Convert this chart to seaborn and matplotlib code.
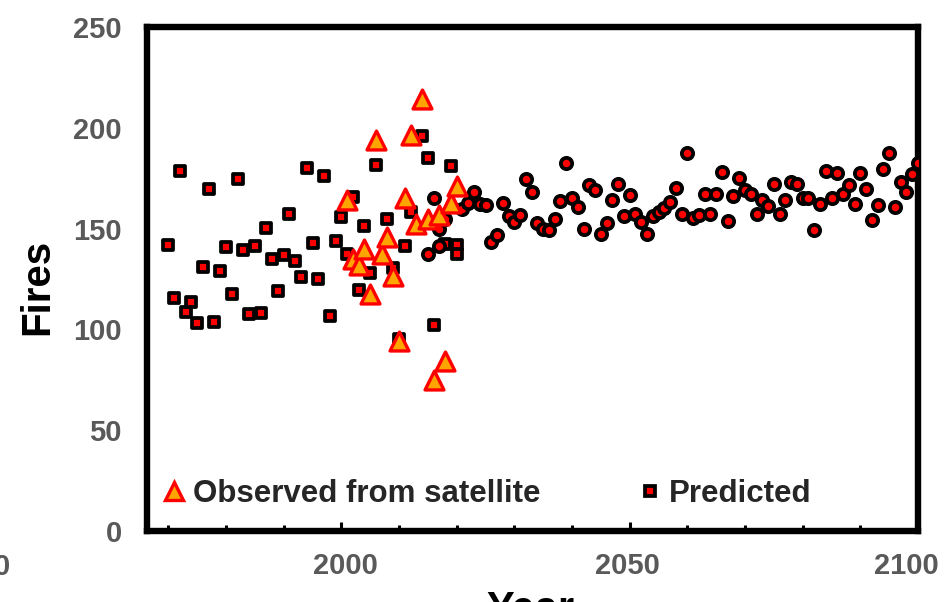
import matplotlib
matplotlib.use("Agg")
import matplotlib.pyplot as plt
import seaborn as sns
from matplotlib.ticker import FixedLocator, MultipleLocator
from matplotlib.lines import Line2D
from matplotlib.transforms import ScaledTranslation

sns.set_theme(style="white")
plt.rcParams["font.family"] = ["Liberation Sans", "DejaVu Sans"]
plt.rcParams["font.weight"] = "bold"

# Model output for the historical period (square markers)
hist_years = [1970, 1971, 1972, 1973, 1974, 1975, 1976, 1977, 1978, 1979,
              1980, 1981, 1982, 1983, 1984, 1985, 1986, 1987, 1988, 1989,
              1990, 1991, 1992, 1993, 1994, 1995, 1996, 1997, 1998, 1999,
              2000, 2001, 2002, 2003, 2004, 2005, 2006, 2008, 2009, 2010,
              2011, 2012, 2014, 2015, 2016, 2018, 2019, 2020, 2020]
hist_fires = [142.1, 115.7, 178.4, 108.5, 113.5, 103.0, 131.1, 169.5, 103.5, 128.9,
              140.8, 117.6, 174.5, 139.5, 107.4, 141.3, 108.2, 150.4, 135.0, 119.1,
              137.0, 157.1, 134.0, 125.9, 180.1, 143.0, 125.2, 176.1, 106.7, 143.8,
              155.7, 137.5, 165.9, 119.3, 151.2, 128.1, 181.6, 154.9, 130.4, 95.4,
              141.6, 158.2, 195.8, 185.2, 102.4, 142.5, 180.9, 142.1, 137.5]

# Model projection (circle markers)
proj_years = [2015, 2016, 2017, 2017, 2018, 2021, 2022,
              2023, 2024, 2025, 2026, 2027, 2028, 2029, 2030, 2031, 2032,
              2033, 2034, 2035, 2036, 2037, 2038, 2039, 2040, 2041, 2042,
              2043, 2044, 2045, 2046, 2047, 2048, 2049, 2050, 2051, 2052,
              2053, 2054, 2055, 2056, 2057, 2058, 2059, 2060, 2061, 2062,
              2063, 2064, 2065, 2066, 2067, 2068, 2069, 2070, 2071, 2072,
              2073, 2074, 2075, 2076, 2077, 2078, 2079, 2080, 2081, 2082,
              2083, 2084, 2085, 2086, 2087, 2088, 2089, 2090, 2091, 2092,
              2093, 2094, 2095, 2096, 2097, 2098, 2099, 2100]
proj_fires = [137.2, 165.2, 141.2, 150.0, 154.9, 159.9, 162.9,
              168.2, 162.0, 161.5, 143.6, 146.6, 162.9, 156.1, 153.3, 156.6, 174.8,
              168.2, 152.8, 149.6, 149.1, 154.9, 163.7, 182.3, 165.1, 160.7, 150.0,
              171.5, 169.0, 147.1, 152.7, 164.4, 172.3, 156.2, 166.8, 157.4, 153.3,
              147.5, 156.1, 158.2, 160.4, 163.2, 170.3, 157.1, 187.5, 155.5, 156.6,
              167.3, 157.1, 167.3, 178.3, 153.6, 166.0, 175.1, 169.0, 167.0, 157.1,
              164.0, 161.0, 172.0, 157.1, 164.0, 173.1, 172.3, 165.1, 165.4, 149.1,
              162.4, 178.4, 165.4, 177.8, 167.3, 171.5, 162.4, 177.8, 169.5, 154.1,
              161.5, 179.8, 187.5, 160.7, 173.1, 168.2, 177.3, 182.3]

# Satellite record
obs_years = [2001, 2002, 2003, 2004, 2005, 2006, 2007, 2008, 2009, 2010,
             2011, 2012, 2013, 2014, 2015, 2016, 2017, 2018, 2019, 2020]
obs_fires = [164.0, 135.0, 131.7, 140.0, 117.6, 193.8, 137.5, 145.8, 126.7, 94.4,
             165.4, 196.3, 152.1, 214.5, 154.9, 74.9, 156.6, 84.5, 162.7, 171.0]

x_ticks = [2000, 2050, 2100]
y_ticks = [0, 50, 100, 150, 200, 250]
label_obs = "Observed from satellite"
label_pred = "Predicted"

RED = "#FF0000"
ORANGE = "#FFA500"
TICK_GREY = "#595959"

fig = plt.figure(figsize=(9.53, 6.02), dpi=100)
ax = fig.add_axes([147 / 953, 71 / 602, 771 / 953, 504 / 602])

sns.scatterplot(x=hist_years, y=hist_fires, marker="s", s=56, color=RED,
                edgecolor="black", linewidth=2.7, ax=ax, zorder=3)
sns.scatterplot(x=proj_years, y=proj_fires, marker="o", s=66, color=RED,
                edgecolor="black", linewidth=2.7, ax=ax, zorder=3)
sns.scatterplot(x=obs_years, y=obs_fires, marker="^", s=185, color=ORANGE,
                edgecolor=RED, linewidth=2.4, ax=ax, zorder=4)

ax.set_xlim(1966.3, 2100)
ax.set_ylim(0, 250)
ax.xaxis.set_major_locator(FixedLocator(x_ticks))
ax.xaxis.set_minor_locator(MultipleLocator(10))
ax.yaxis.set_major_locator(FixedLocator(y_ticks))

for spine in ax.spines.values():
    spine.set_visible(True)
    spine.set_color("black")
    spine.set_linewidth(4.6)

ax.tick_params(axis="x", which="major", direction="in", length=6.5, width=2.2,
               color="black", pad=15, labelsize=21, labelcolor=TICK_GREY,
               bottom=True, top=False)
ax.tick_params(axis="x", which="minor", direction="in", length=4.5, width=2.2,
               color="black", bottom=True, top=False)
ax.tick_params(axis="y", length=0, pad=18, labelsize=21, labelcolor=TICK_GREY)

# nudge the year labels so the last one stays inside the figure
label_shift_px = [4, -2, -12]
for tick, dx in zip(ax.xaxis.get_major_ticks(), label_shift_px):
    lbl = tick.label1
    lbl.set_transform(lbl.get_transform()
                      + ScaledTranslation(dx / 100, 0, fig.dpi_scale_trans))

ax.set_ylabel("Fires", fontsize=29, fontweight="bold", color="black")
ax.yaxis.set_label_coords(-0.1427, 0.484)
ax.yaxis.label.set_va("center")

ax.set_xlabel("Year", fontsize=30, fontweight="bold", color="black")
ax.xaxis.set_label_coords(0.497, -0.118)
ax.xaxis.label.set_va("top")

h_obs = Line2D([], [], ls="none", marker="^", ms=13, mfc=ORANGE, mec=RED, mew=2.4)
h_pred = Line2D([], [], ls="none", marker="s", ms=7.2, mfc=RED, mec="black", mew=2.7)
leg_kw = dict(loc="center left", frameon=False, fontsize=22.5, handlelength=0.8,
              handletextpad=0.2, borderpad=0, borderaxespad=0)
leg1 = ax.legend([h_obs], [label_obs], bbox_to_anchor=(0.0188, 0.0734), **leg_kw)
ax.add_artist(leg1)
ax.legend([h_pred], [label_pred], bbox_to_anchor=(0.636, 0.0734), **leg_kw)

# tail of the neighbouring axis label at the left edge
fig.text(10 / 953, 1 - 567 / 602, "0", ha="right", va="center", fontsize=21,
         color=TICK_GREY, fontweight="bold")

fig.savefig("out.png", dpi=100)
